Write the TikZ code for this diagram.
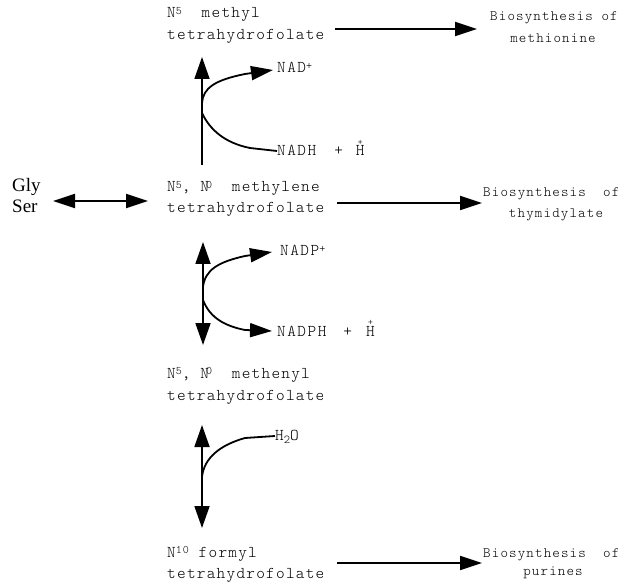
\documentclass[tikz,border=0pt]{standalone}
\usepackage{fontspec}
\setmainfont{Liberation Serif}
\newfontfamily\courA[LetterSpace=7.5]{lmmonolt10-regular.otf}
\newfontfamily\courB[LetterSpace=9]{lmmonolt10-regular.otf}
\newfontfamily\courC[LetterSpace=8]{lmmonolt10-regular.otf}
\usetikzlibrary{arrows.meta}
\newcommand\supc[1]{\raisebox{0.55ex}{\fontsize{11.5}{11.5}\selectfont #1}}
\newcommand\subc[1]{\raisebox{-0.5ex}{\fontsize{12}{12}\selectfont #1}}
\newcommand\Hplus{\ooalign{H\cr\hidewidth\raisebox{1.5ex}{\fontsize{10}{10}\selectfont +}\hidewidth\cr}}
\tikzset{
  lbl/.style={anchor=base west, inner sep=0pt, font=\courA\fontsize{16.5}{20}\selectfont},
  side/.style={anchor=base west, inner sep=0pt, font=\courB\fontsize{16.5}{20}\selectfont},
  bio/.style={anchor=base west, inner sep=0pt, font=\courC\fontsize{14.3}{18}\selectfont},
  bioc/.style={anchor=base, inner sep=0pt, font=\courC\fontsize{14.3}{18}\selectfont},
  aa/.style={anchor=base west, inner sep=0pt, font=\rmfamily\fontsize{19}{22}\selectfont},
  tip/.style={-{Triangle[length=22pt,width=14pt]}},
  dtip/.style={{Triangle[length=22pt,width=14pt]}-{Triangle[length=22pt,width=14pt]}},
  vtip/.style={-{Triangle[length=22pt,width=15pt]}},
  dvtip/.style={{Triangle[length=22pt,width=15pt]}-{Triangle[length=22pt,width=15pt]}},
  ln/.style={line width=1.8pt, line join=round}
}
\begin{document}
\begin{tikzpicture}[x=1pt,y=-1pt]
\useasboundingbox[fill=white] (0,0) rectangle (624,588);
% main compounds
\node[lbl] (meA) at (167,18) {N\supc{5}~~methyl};
\node[lbl] (meB) at (167,40) {tetrahydrofolate};
\node[lbl] (mlA) at (167,192) {N\supc{5}, N\kern-3pt\supc{0}~~methylene};
\node[lbl] (mlB) at (167,213) {tetrahydrofolate};
\node[lbl] (mnA) at (167,378) {N\supc{5}, N\kern-3pt\supc{0}~~methenyl};
\node[lbl] (mnB) at (167,400) {tetrahydrofolate};
\node[lbl] (foA) at (167,557) {N\supc{10}~formyl};
\node[lbl] (foB) at (167,578) {tetrahydrofolate};
% Gly Ser
\node[aa] (gly) at (12,192) {Gly};
\node[aa] (ser) at (12,213) {Ser};
% biosynthesis
\node[bio] (b1A) at (490,21) {Biosynthesis of};
\node[bioc] (b1B) at (553,43) {methionine};
\node[bio] (b2A) at (483,197) {Biosynthesis~~of};
\node[bioc] (b2B) at (556,218) {thymidylate};
\node[bio] (b3A) at (483,557) {Biosynthesis~~of};
\node[bioc] (b3B) at (553,575) {purines};
% side labels
\node[side] (nad) at (277,73) {NAD\supc{+}};
\node[side] (nadh) at (277,156) {NADH\hspace{18pt}+\hspace{13pt}\Hplus};
\node[side] (nadp) at (280,256) {NADP\supc{+}};
\node[side] (nadph) at (277,336) {NADPH\hspace{17pt}+\hspace{14pt}\Hplus};
\node[side] (water) at (275,440) {H\subc{2}O};
% coordinates
\coordinate (h1s) at (335,29);  \coordinate (h1e) at (477,29);
\coordinate (h2s) at (337,203); \coordinate (h2e) at (482,203);
\coordinate (h3s) at (337,563); \coordinate (h3e) at (482,563);
\coordinate (gl) at (53,201);   \coordinate (gr) at (148,201);
\coordinate (v1b) at (202,165); \coordinate (v1t) at (202,57);
\coordinate (v2t) at (203,242); \coordinate (v2b) at (203,345);
\coordinate (v3t) at (202,425); \coordinate (v3b) at (202,528);
% arrows
\draw[ln,tip] (h1s) -- (h1e);
\draw[ln,tip] (h2s) -- (h2e);
\draw[ln,tip] (h3s) -- (h3e);
\draw[ln,dtip] (gl) -- (gr);
\draw[ln,vtip] (v1b) -- (v1t);
\draw[ln,dvtip] (v2t) -- (v2b);
\draw[ln,dvtip] (v3t) -- (v3b);
% curves
\coordinate (c1s) at (202,103); \coordinate (c1e) at (273,70);
\draw[ln,tip] (c1s) .. controls (203,88) and (215,80) .. (245,74) -- (c1e);
\coordinate (c2s) at (202,113); \coordinate (c2e) at (nadh.west |- 0,151);
\draw[ln] (c2s) .. controls (210,130) and (225,143) .. (250,148) -- (c2e);
\coordinate (c3s) at (203,287); \coordinate (c3e) at (272,252);
\draw[ln,tip] (c3s) .. controls (205,270) and (218,262) .. (245,256) -- (c3e);
\coordinate (c4s) at (203,300); \coordinate (c4e) at (272,331);
\draw[ln,tip] (c4s) .. controls (210,318) and (225,326) .. (245,330) -- (c4e);
\coordinate (c5s) at (202,477);
\draw[ln] (c5s) .. controls (204,458) and (220,445) .. (245,438) -- (water.west |- 0,436);
\end{tikzpicture}
\end{document}
